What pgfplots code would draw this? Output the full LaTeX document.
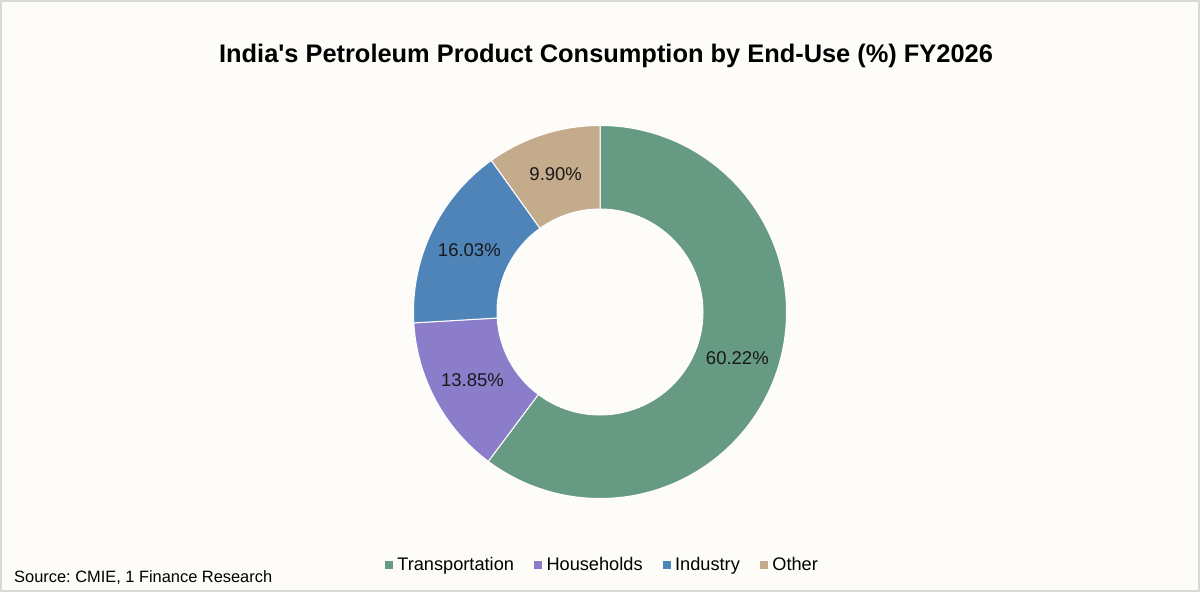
\documentclass[border=0pt]{standalone}
\usepackage{pgfplots}
\pgfplotsset{compat=1.18}
\usepackage{fontspec}
\setmainfont{Liberation Sans}

\definecolor{bgc}{HTML}{FDFCF8}
\definecolor{frm}{HTML}{D9D9D9}
\definecolor{cT}{HTML}{679A82}
\definecolor{cH}{HTML}{8B7DC9}
\definecolor{cI}{HTML}{4E84B8}
\definecolor{cO}{HTML}{C4AB8B}

% shares in percent
\def\vT{60.22}
\def\vH{13.85}
\def\vI{16.03}
\def\vO{9.90}

% slice angles, clockwise from 12 o'clock
\pgfmathsetmacro\aT{90}
\pgfmathsetmacro\aH{\aT-3.6*\vT}
\pgfmathsetmacro\aI{\aH-3.6*\vH}
\pgfmathsetmacro\aO{\aI-3.6*\vI}
\pgfmathsetmacro\aE{\aO-3.6*\vO}

\def\cx{600}\def\cy{280}\def\ro{186.5}\def\ri{103}
\newcommand\lab{\fontsize{18.5bp}{22bp}\selectfont}
\newcommand\leg{\fontsize{18.2bp}{22bp}\selectfont}

\newcommand\slice[3]{%
  \fill[#3, draw=white, line width=1bp]
    (axis cs:{\cx+\ro*cos(#1)},{\cy+\ro*sin(#1)})
    arc[start angle=#1, end angle=#2, radius=\ro bp]
    -- (axis cs:{\cx+\ri*cos(#2)},{\cy+\ri*sin(#2)})
    arc[start angle=#2, end angle=#1, radius=\ri bp] -- cycle;}
\newcommand\slicelabel[3]{%
  \node[font=\lab, text=black!90] at
    (axis cs:{\cx+144.75*cos((#1+#2)/2)},{\cy+144.75*sin((#1+#2)/2)}) {#3};}

\begin{document}
\frenchspacing
\begin{tikzpicture}
\begin{axis}[
    scale only axis,
    width=1200bp, height=592bp,
    xmin=0, xmax=1200, ymin=0, ymax=592,
    hide axis, clip=false,
    legend image code/.code={\draw[#1, draw=none] (0bp,-4bp) rectangle (8bp,4bp);},
    legend style={draw=none, fill=none, font=\leg,
        at={(axis description cs:0.503,0.0456)}, anchor=center,
        legend columns=-1,
        nodes={inner xsep=4.5bp, inner ysep=0pt},
        /tikz/every even column/.append style={column sep=15.5bp}},
]
\draw[frm, line width=2bp, fill=bgc] (axis cs:1,1) rectangle (axis cs:1199,591);

\slice{\aT}{\aH}{cT}
\slice{\aH}{\aI}{cH}
\slice{\aI}{\aO}{cI}
\slice{\aO}{\aE}{cO}

\slicelabel{\aT}{\aH}{60.22\%}
\slicelabel{\aH}{\aI}{13.85\%}
\slicelabel{\aI}{\aO}{16.03\%}
\slicelabel{\aO}{\aE}{9.90\%}

\node[font=\bfseries\fontsize{25.4bp}{29bp}\selectfont, anchor=base]
    at (axis cs:606,529) {India\textquotesingle s Petroleum Product Consumption by End-Use (\%) FY2026};
\node[font=\fontsize{16.4bp}{19bp}\selectfont, anchor=base west, inner sep=0pt]
    at (axis cs:14,10) {Source: CMIE, 1 Finance Research};

\addlegendimage{fill=cT}\addlegendentry{Transportation}
\addlegendimage{fill=cH}\addlegendentry{Households}
\addlegendimage{fill=cI}\addlegendentry{Industry}
\addlegendimage{fill=cO}\addlegendentry{Other}
\end{axis}
\end{tikzpicture}
\end{document}
